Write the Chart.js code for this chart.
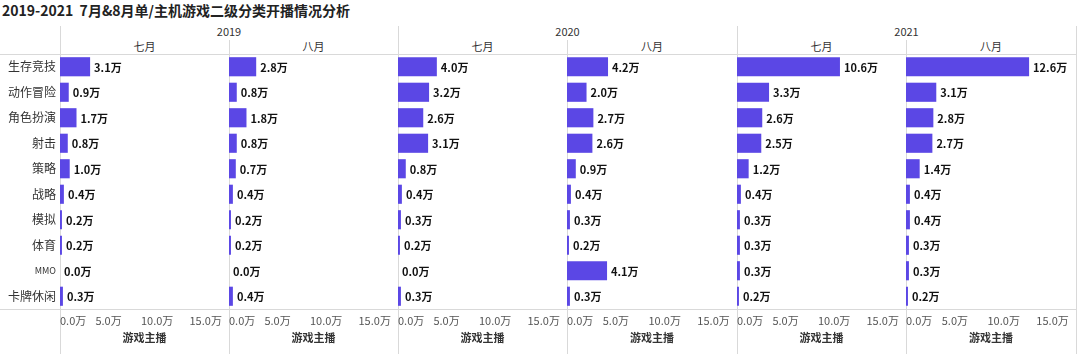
<!DOCTYPE html>
<html>
<head>
<meta charset="utf-8">
<script src="https://cdn.jsdelivr.net/npm/chart.js@4"></script>
<style>
  body { margin: 0; background: #fff; font-family: "Noto Sans CJK SC", sans-serif; }
  #wrap { position: relative; width: 1080px; height: 354px; overflow: hidden; }
  .title { position: absolute; left: 2px; top: 0px; font-size: 14px; font-weight: bold; color: #222; white-space: nowrap; }
  .hdr { position: absolute; font-size: 11px; color: #333; text-align: center; }
  .ln { position: absolute; background: #d9d9d9; }
  canvas { position: absolute; }
</style>
</head>
<body>
<div id="wrap">
  <div class="title">2019-2021&nbsp; 7月&amp;8月单/主机游戏二级分类开播情况分析</div>
</div>
<script>
// 分类
var categories = ['生存竞技', '动作冒险', '角色扮演', '射击', '策略', '战略', '模拟', '体育', 'MMO', '卡牌休闲'];
var years = ['2019', '2020', '2021'];
var months = ['七月', '八月'];
var xTicks = [0, 5, 10, 15];

// 开播主播数（万）
var y2019Jul = [3.1, 0.9, 1.7, 0.8, 1.0, 0.4, 0.2, 0.2, 0.0, 0.3];
var y2019Aug = [2.8, 0.8, 1.8, 0.8, 0.7, 0.4, 0.2, 0.2, 0.0, 0.4];
var y2020Jul = [4.0, 3.2, 2.6, 3.1, 0.8, 0.4, 0.3, 0.2, 0.0, 0.3];
var y2020Aug = [4.2, 2.0, 2.7, 2.6, 0.9, 0.4, 0.3, 0.2, 4.1, 0.3];
var y2021Jul = [10.6, 3.3, 2.6, 2.5, 1.2, 0.4, 0.3, 0.3, 0.3, 0.2];
var y2021Aug = [12.6, 3.1, 2.8, 2.7, 1.4, 0.4, 0.4, 0.3, 0.3, 0.2];

var series = [y2019Jul, y2019Aug, y2020Jul, y2020Aug, y2021Jul, y2021Aug];

Chart.defaults.font.family = '"Noto Sans CJK SC", sans-serif';
Chart.defaults.color = '#444';

var wrap = document.getElementById('wrap');
var edges = [60, 229, 398, 567, 737, 906, 1076];
var top0 = 54, bottom0 = 309, xMax = 17.4;

function addDiv(cls, css, text) {
    var d = document.createElement('div');
    d.className = cls;
    Object.assign(d.style, css);
    if (text) d.textContent = text;
    wrap.appendChild(d);
}

// 表头和分隔线
addDiv('ln', {left: '0px', top: top0 + 'px', width: '1077px', height: '1px'});
addDiv('ln', {left: '0px', top: bottom0 + 'px', width: '1077px', height: '1px'});
years.forEach(function(y, i) {
    var l = edges[i * 2], r = edges[i * 2 + 2];
    addDiv('hdr', {left: l + 'px', width: (r - l) + 'px', top: '23px'}, y);
});
for (var i = 0; i < 7; i++) {
    var t = i % 2 === 0 ? 26 : 40;
    addDiv('ln', {left: edges[i] + 'px', top: t + 'px', width: '1px', height: (354 - t) + 'px'});
}

// 数值标签
var valueLabels = {
    id: 'valueLabels',
    afterDatasetsDraw: function(chart) {
        var ctx = chart.ctx;
        var vals = chart.data.datasets[0].data;
        ctx.save();
        ctx.font = 'bold 11px "Noto Sans CJK SC"';
        ctx.fillStyle = '#111';
        ctx.textBaseline = 'middle';
        chart.getDatasetMeta(0).data.forEach(function(bar, k) {
            ctx.fillText(vals[k].toFixed(1) + '万', bar.x + 4, bar.y + 1);
        });
        ctx.restore();
    }
};

series.forEach(function(vals, p) {
    var first = p === 0;
    var left = first ? 0 : edges[p];
    var w = edges[p + 1] - left;

    addDiv('hdr', {left: edges[p] + 'px', width: (edges[p + 1] - edges[p]) + 'px', top: '38px'}, months[p % 2]);

    var cv = document.createElement('canvas');
    cv.style.left = left + 'px';
    cv.style.top = top0 + 'px';
    cv.style.width = w + 'px';
    cv.style.height = '300px';
    cv.width = w;
    cv.height = 300;
    wrap.appendChild(cv);

    new Chart(cv.getContext('2d'), {
        type: 'bar',
        data: {
            labels: categories,
            datasets: [{
                data: vals,
                backgroundColor: '#5b47e5',
                borderWidth: 0,
                barPercentage: 0.75,
                categoryPercentage: 1
            }]
        },
        options: {
            indexAxis: 'y',
            responsive: false,
            animation: false,
            layout: { padding: 0 },
            plugins: { legend: { display: false }, tooltip: { enabled: false } },
            scales: {
                x: {
                    min: 0,
                    max: xMax,
                    grid: { display: false, drawTicks: false },
                    border: { display: false },
                    afterBuildTicks: function(s) {
                        s.ticks = xTicks.concat([xMax]).map(function(v) { return {value: v}; });
                    },
                    afterFit: function(s) {
                        s.height = 45;
                        s.paddingLeft = 0;
                        s.paddingRight = 0;
                    },
                    ticks: {
                        autoSkip: false,
                        maxRotation: 0,
                        align: 'inner',
                        padding: 5,
                        color: '#555',
                        font: { size: 11 },
                        callback: function(v) { return v === xMax ? '' : v.toFixed(1) + '万'; }
                    },
                    title: {
                        display: true,
                        text: '游戏主播',
                        color: '#333',
                        font: { size: 11, weight: 'bold' },
                        padding: { top: 2, bottom: 10 }
                    }
                },
                y: {
                    display: first,
                    grid: { display: false, drawTicks: false },
                    border: { display: false },
                    afterFit: function(s) {
                        if (first) s.width = 60;
                        s.paddingTop = 0;
                        s.paddingBottom = 0;
                    },
                    ticks: {
                        padding: 4,
                        color: '#333',
                        font: function(c) {
                            return { size: categories[c.index] === 'MMO' ? 9 : 12 };
                        }
                    }
                }
            }
        },
        plugins: [valueLabels]
    });
});
</script>
</body>
</html>
